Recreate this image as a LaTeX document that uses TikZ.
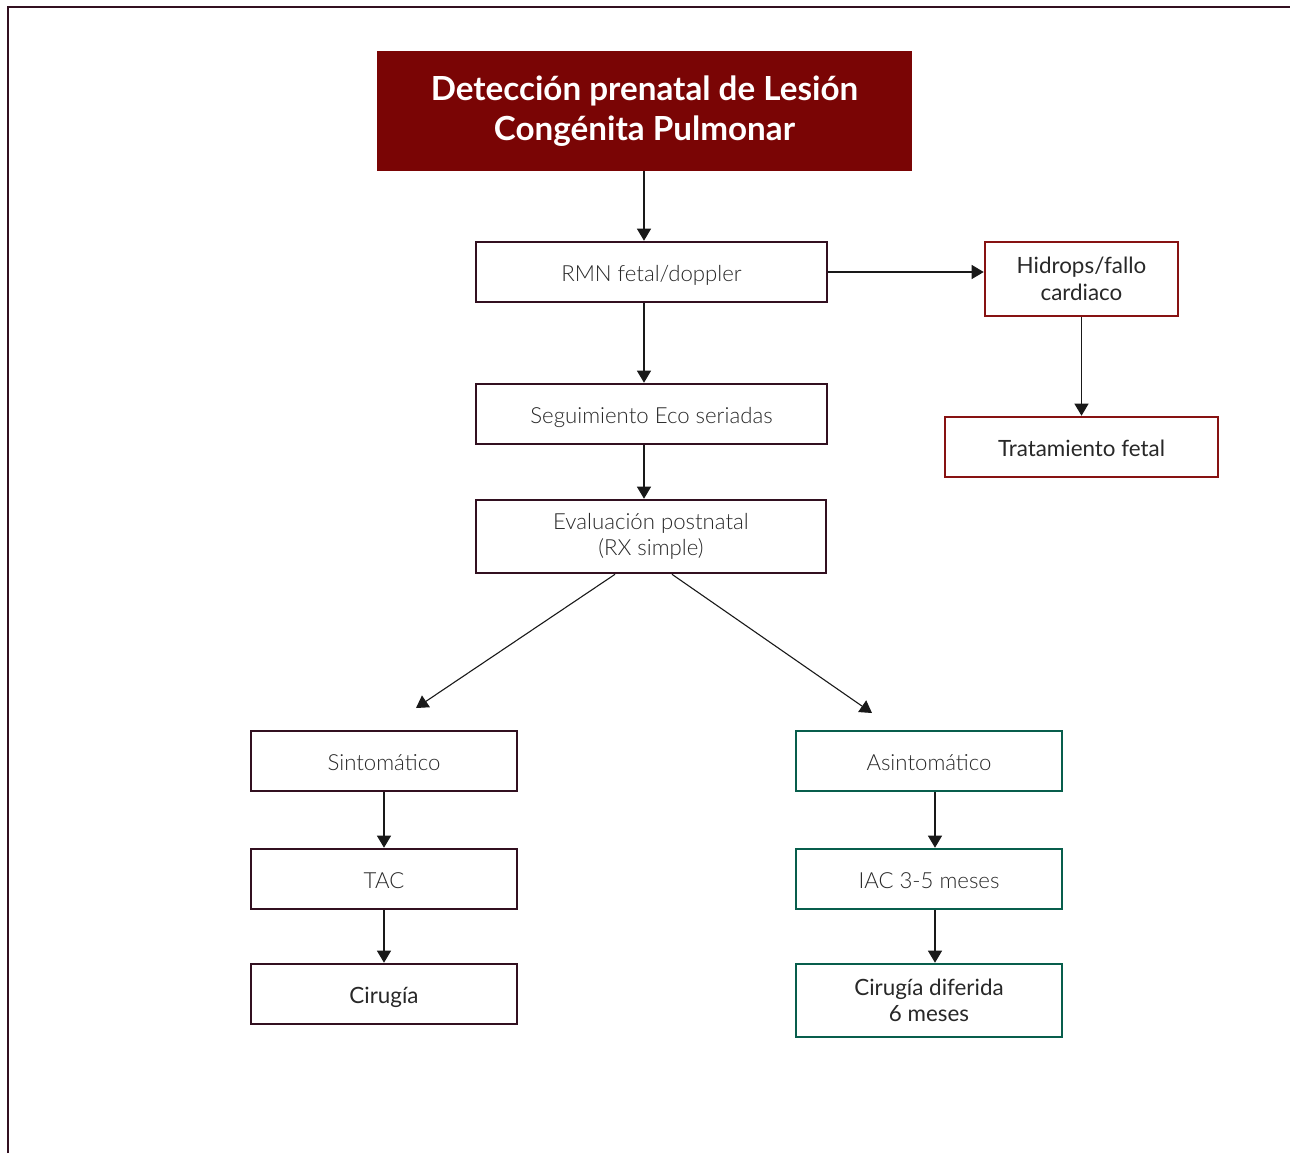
\documentclass[tikz,border=0pt]{standalone}
\usepackage{fontspec}
\setmainfont{Lato}
\newfontfamily\lightfont{Lato Light}
\usetikzlibrary{arrows.meta}

\definecolor{titlered}{RGB}{122,5,5}
\definecolor{darkline}{RGB}{50,16,32}
\definecolor{redline}{RGB}{135,18,18}
\definecolor{greenline}{RGB}{8,94,76}
\definecolor{textgray}{RGB}{40,40,40}

\begin{document}
\begin{tikzpicture}[
    x=0.5pt, y=-0.5pt,
    box/.style={draw=darkline,line width=1.3pt,fill=white,inner sep=0pt,align=center,
        minimum width=133pt,minimum height=30pt,font=\lightfont\fontsize{11.1}{13}\selectfont,text=textgray},
    oneline/.style={text height=9.5pt,text depth=0pt},
    medium/.style={font=\fontsize{11.2}{13.2}\selectfont},
    redbox/.style={box,draw=redline,medium},
    greenbox/.style={box,draw=greenline},
    arr/.style={-{Triangle[length=6pt,width=7pt]},line width=0.55pt,draw=black!90}
]

\useasboundingbox (0,0) rectangle (1290,1153);
\draw[darkline,line width=0.9pt] (8,1153) -- (8,7) -- (1290,7);

\node[fill=titlered,text=white,inner sep=0pt,minimum width=267.5pt,minimum height=60pt,
      align=center,font=\bfseries\fontsize{16.6}{20}\selectfont] (title) at (644.5,111)
      {Detección prenatal de Lesión\\Congénita Pulmonar};

\node[box,oneline,minimum width=175.5pt] (rmn) at (651.5,272) {RMN fetal/doppler};
\node[box,oneline,minimum width=175.5pt] (eco) at (651.5,414) {Seguimiento Eco seriadas};
\node[box,minimum width=175pt,minimum height=36.5pt] (eval) at (651,536.5) {Evaluación postnatal\\(RX simple)};

\node[redbox,minimum width=96.5pt,minimum height=37pt] (hidrops) at (1081.5,279) {Hidrops/fallo\\cardiaco};
\node[redbox,oneline,minimum width=136.5pt] (trat) at (1081.5,447) {Tratamiento fetal};

\node[box,oneline] (sint) at (384,761) {Sintomático};
\node[box,oneline] (tac) at (384,879) {TAC};
\node[box,oneline,medium] (cir) at (384,994) {Cirugía};

\node[greenbox,oneline] (asint) at (929,761) {Asintomático};
\node[greenbox,oneline] (iac) at (929,879) {IAC 3-5 meses};
\node[greenbox,medium,minimum height=36.5pt] (cirdif) at (929,1000.5) {Cirugía diferida\\6 meses};

\coordinate (sintend) at (416,708);
\coordinate (asintend) at (872,713);

\draw[arr] ([xshift=-0.25pt]title.south) -- ([xshift=-3.75pt]rmn.north);
\draw[arr] ([xshift=-3.75pt]rmn.south) -- ([xshift=-3.75pt]eco.north);
\draw[arr] ([xshift=-3.75pt]eco.south) -- ([xshift=-3.5pt]eval.north);
\draw[arr] (rmn.east) -- (hidrops.west |- rmn.east);
\draw[arr] (hidrops.south) -- (trat.north);

\draw[arr] ([xshift=-18pt]eval.south) -- (sintend);
\draw[arr] ([xshift=10.5pt]eval.south) -- (asintend);

\draw[arr] (sint) -- (tac);
\draw[arr] (tac) -- (cir);
\draw[arr] ([xshift=3pt]asint.south) -- ([xshift=3pt]iac.north);
\draw[arr] ([xshift=3pt]iac.south) -- ([xshift=3pt]cirdif.north);

\end{tikzpicture}
\end{document}
